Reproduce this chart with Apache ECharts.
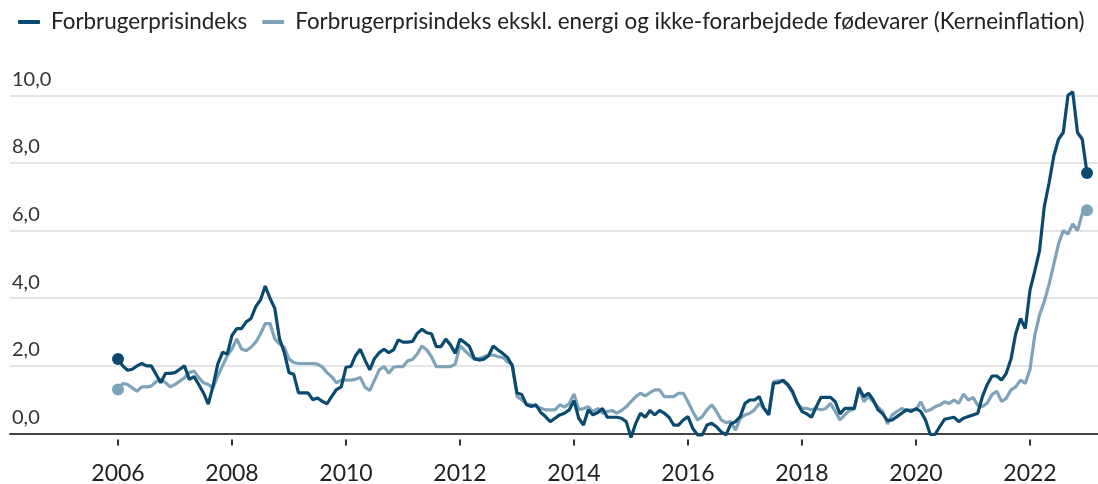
<!DOCTYPE html>
<html>
<head>
<meta charset="utf-8">
<script src="https://cdn.jsdelivr.net/npm/echarts@6/dist/echarts.min.js"></script>
<style>
  html, body { margin: 0; padding: 0; background: #fff; }
  #main { width: 1098px; height: 484px; }
</style>
</head>
<body>
<div id="main"></div>
<script>
// monthly values, Jan 2006 - Jan 2023 (one row per year)
var cpi = [
    2.2, 2.0, 1.87, 1.9, 2.0, 2.07, 2.0, 2.0, 1.75, 1.5, 1.78, 1.78,
    1.8, 1.9, 2.0, 1.6, 1.68, 1.45, 1.2, 0.87, 1.4, 2.05, 2.4, 2.35,
    2.9, 3.1, 3.1, 3.3, 3.4, 3.75, 3.95, 4.36, 4.0, 3.7, 2.8, 2.4,
    1.8, 1.75, 1.2, 1.2, 1.2, 1.0, 1.05, 0.95, 0.88, 1.1, 1.3, 1.38,
    1.96, 1.98, 2.3, 2.49, 2.17, 1.88, 2.22, 2.39, 2.49, 2.39, 2.47, 2.77,
    2.7, 2.7, 2.72, 2.96, 3.08, 2.98, 2.95, 2.57, 2.57, 2.79, 2.62, 2.37,
    2.79, 2.69, 2.57, 2.22, 2.17, 2.2, 2.3, 2.59, 2.47, 2.37, 2.25, 2.0,
    1.2, 1.15, 0.85, 0.8, 0.85, 0.62, 0.5, 0.35, 0.45, 0.55, 0.6, 0.7,
    0.97, 0.45, 0.25, 0.7, 0.55, 0.62, 0.74, 0.48, 0.48, 0.48, 0.45, 0.35,
    -0.12, 0.3, 0.6, 0.48, 0.68, 0.55, 0.68, 0.6, 0.48, 0.25, 0.25, 0.4,
    0.5, 0.15, -0.04, -0.04, 0.25, 0.3, 0.2, 0.05, -0.04, 0.28, 0.35, 0.5,
    0.89, 0.99, 0.99, 1.09, 0.74, 0.55, 1.49, 1.5, 1.58, 1.45, 1.25, 0.9,
    0.65, 0.58, 0.48, 0.79, 1.07, 1.07, 1.07, 0.94, 0.58, 0.74, 0.74, 0.74,
    1.34, 1.09, 1.19, 0.99, 0.7, 0.58, 0.38, 0.4, 0.5, 0.6, 0.7, 0.65,
    0.74, 0.65, 0.4, -0.03, -0.03, 0.2, 0.42, 0.45, 0.48, 0.35, 0.45, 0.5,
    0.55, 0.6, 1.1, 1.45, 1.7, 1.7, 1.58, 1.78, 2.2, 2.96, 3.4, 3.1,
    4.24, 4.8, 5.4, 6.7, 7.4, 8.2, 8.7, 8.9, 10.0, 10.1, 8.9, 8.7,
    7.7
];
var kerne = [
    1.3, 1.48, 1.45, 1.35, 1.25, 1.38, 1.38, 1.4, 1.53, 1.6, 1.5, 1.38,
    1.45, 1.55, 1.65, 1.8, 1.85, 1.65, 1.5, 1.45, 1.35, 1.7, 2.0, 2.3,
    2.5, 2.8, 2.5, 2.45, 2.55, 2.7, 2.95, 3.25, 3.25, 2.8, 2.65, 2.55,
    2.2, 2.1, 2.07, 2.07, 2.07, 2.07, 2.05, 1.97, 1.8, 1.68, 1.5, 1.58,
    1.58, 1.58, 1.6, 1.66, 1.37, 1.27, 1.58, 1.88, 1.98, 1.78, 1.96, 1.98,
    1.98, 2.15, 2.19, 2.35, 2.59, 2.47, 2.27, 1.98, 1.98, 1.98, 1.98, 2.05,
    2.6, 2.45, 2.32, 2.19, 2.22, 2.27, 2.32, 2.32, 2.27, 2.25, 2.12, 2.05,
    1.09, 1.0, 0.87, 0.85, 0.8, 0.75, 0.7, 0.7, 0.7, 0.85, 0.78, 0.89,
    1.17, 0.7, 0.74, 0.79, 0.65, 0.74, 0.6, 0.65, 0.68, 0.6, 0.68, 0.79,
    0.94, 1.09, 1.19, 1.11, 1.21, 1.29, 1.29, 1.09, 1.09, 1.09, 1.19, 1.19,
    0.94, 0.65, 0.4, 0.5, 0.7, 0.85, 0.65, 0.4, 0.32, 0.35, 0.1, 0.45,
    0.55, 0.6, 0.7, 0.89, 0.74, 0.6, 1.53, 1.56, 1.53, 1.43, 1.2, 0.9,
    0.74, 0.74, 0.7, 0.74, 0.7, 0.74, 0.89, 0.65, 0.4, 0.55, 0.68, 0.72,
    1.38, 0.94, 1.09, 0.94, 0.79, 0.65, 0.28, 0.55, 0.65, 0.74, 0.68, 0.7,
    0.7, 0.94, 0.65, 0.7, 0.79, 0.84, 0.94, 0.89, 0.99, 0.89, 1.17, 0.99,
    1.07, 0.84, 0.8, 0.9, 1.15, 1.25, 0.95, 1.04, 1.29, 1.38, 1.58, 1.48,
    1.9, 2.9, 3.5, 3.9, 4.4, 5.0, 5.6, 6.0, 5.9, 6.2, 6.0, 6.5,
    6.6
];
var tickYears = [2006, 2008, 2010, 2012, 2014, 2016, 2018, 2020, 2022];
var names = ['Forbrugerprisindeks', 'Forbrugerprisindeks ekskl. energi og ikke-forarbejdede fødevarer (Kerneinflation)'];

var startYear = 2006;
var darkBlue = '#0b4a6f';
var lightBlue = '#7fa3b9';

// turn a monthly list into [year, value] points, with a dot on the first and last one
function toPoints(values) {
    return values.map(function (v, i) {
        var p = [startYear + i / 12, v];
        if (i === 0 || i === values.length - 1) {
            return { value: p, symbol: 'circle', symbolSize: 12 };
        }
        return { value: p, symbol: 'none' };
    });
}

var chartDom = document.getElementById('main');
var myChart = echarts.init(chartDom);
var option;

var xRange = { min: 2004.105, max: 2023.193 };

option = {
    animation: false,
    textStyle: { fontFamily: 'Lato' },
    legend: {
        left: 13,
        top: 6,
        itemWidth: 22,
        itemHeight: 4,
        itemGap: 15,
        icon: 'roundRect',
        textStyle: { fontSize: 22.4, color: '#222', padding: [0, 0, 0, 6] },
        data: names
    },
    grid: {
        left: 10,
        right: 0,
        top: 95.3,
        bottom: 50.5,
        outerBoundsMode: 'none'
    },
    xAxis: [{
        type: 'value',
        min: xRange.min,
        max: xRange.max,
        axisLine: { lineStyle: { color: '#444', width: 2 } },
        axisTick: { show: false },
        splitLine: { show: false },
        axisLabel: {
            customValues: tickYears,
            fontSize: 23,
            color: '#222',
            margin: 29,
            formatter: function (v) { return String(Math.round(v)); }
        }
    }, {
        // short ticks sitting a little below the axis line
        type: 'value',
        position: 'bottom',
        offset: 6,
        min: xRange.min,
        max: xRange.max,
        axisLine: { show: false },
        axisTick: {
            show: true,
            length: 6,
            customValues: tickYears,
            lineStyle: { color: '#333', width: 2 }
        },
        axisLabel: { show: false },
        splitLine: { show: false }
    }],
    yAxis: {
        type: 'value',
        min: 0,
        max: 10,
        interval: 2,
        axisLine: { show: false },
        axisTick: { show: false },
        splitLine: { lineStyle: { color: '#dcdcdc', width: 1.5 } },
        axisLabel: {
            inside: true,
            margin: 2,
            verticalAlign: 'bottom',
            padding: [0, 0, 6, 0],
            fontSize: 20,
            color: '#333',
            formatter: function (v) { return v.toFixed(1).replace('.', ','); }
        }
    },
    series: [{
        name: names[1],
        type: 'line',
        clip: false,
        showSymbol: true,
        color: lightBlue,
        lineStyle: { width: 3.2, color: lightBlue },
        itemStyle: { color: lightBlue },
        data: toPoints(kerne),
        z: 2
    }, {
        name: names[0],
        type: 'line',
        clip: false,
        showSymbol: true,
        color: darkBlue,
        lineStyle: { width: 3.2, color: darkBlue },
        itemStyle: { color: darkBlue },
        data: toPoints(cpi),
        z: 3
    }]
};

option && myChart.setOption(option);
</script>
</body>
</html>
